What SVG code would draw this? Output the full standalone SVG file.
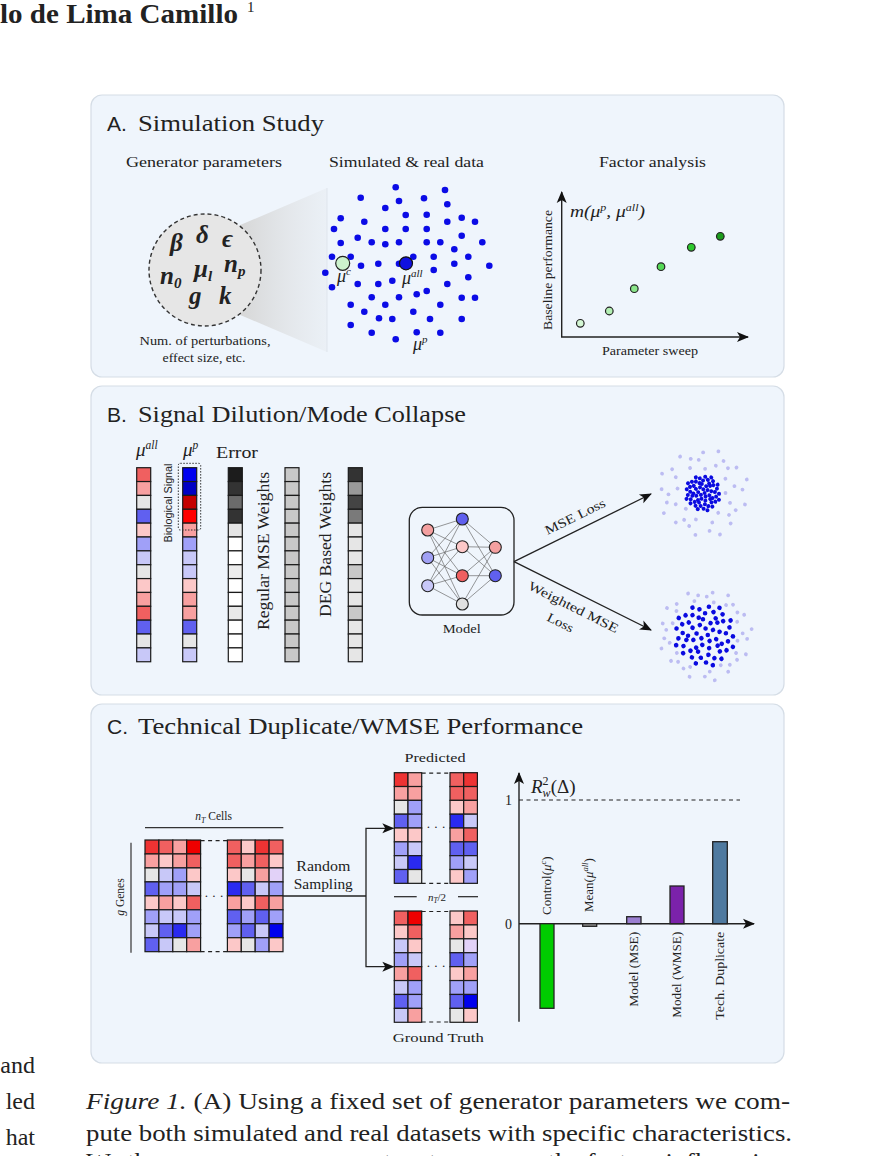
<svg xmlns="http://www.w3.org/2000/svg" xmlns:xlink="http://www.w3.org/1999/xlink" width="876" height="1156" viewBox="0 0 876 1156">
<defs>
<style>
.s{font-family:"Liberation Serif",serif;fill:#222}
.ss{font-family:"Liberation Sans",sans-serif;fill:#222}
.it{font-style:italic}
.panel{fill:#eff5fc;stroke:#d5dde6;stroke-width:1.2}
.cell rect{stroke:#1a1a1a;stroke-width:1.2}
.r0{fill:#ee0000}.r1{fill:#ee3333}.r2{fill:#f06060}.r3{fill:#f8a0a0}.r4{fill:#fcc8c8}
.g0{fill:#e6e6e6}.b4{fill:#c8c8f8}.b3{fill:#a0a0f8}.b2{fill:#6060f0}.b1{fill:#2a2af0}.b0{fill:#0000ee}
.lv{fill:#e2d2f8}.bb{fill:#0000f0}.db{fill:#0000c4}.dr{fill:#c40000}.rr{fill:#ff0000}
.dot{fill:#0b0be6}
.ln{stroke:#222;stroke-width:1.3;fill:none}
.ax{stroke:#222;stroke-width:1.4;fill:none}
</style>
<marker id="arr" viewBox="0 0 12 12" refX="11" refY="6" markerWidth="12" markerHeight="12" markerUnits="userSpaceOnUse" orient="auto">
<path d="M0,1 L12,6 L0,11 L3,6 z" fill="#111"/>
</marker>
<linearGradient id="cone" x1="0" y1="0" x2="1" y2="0">
<stop offset="0" stop-color="#d6d6d6"/>
<stop offset="1" stop-color="#e8edf2" stop-opacity="0.6"/>
</linearGradient>
<circle id="bd" r="2" fill="#0a0ae0"/>
<circle id="bd2" r="2.3" fill="#0a0ae0"/>
<circle id="bf" r="1.9" fill="#bcbcf2"/>
</defs>

<rect width="876" height="1156" fill="#ffffff"/>

<!-- header and surrounding text -->
<g id="header">
<text class="s" x="0" y="23" font-size="28" font-weight="bold" fill="#111" textLength="238" lengthAdjust="spacingAndGlyphs">lo de Lima Camillo</text>
<text class="s" x="247" y="12" font-size="15" fill="#111">1</text>
</g>
<g id="side-text">
<text class="s" x="35" y="1073" font-size="24" text-anchor="end" fill="#111">and</text>
<text class="s" x="35" y="1109" font-size="24" text-anchor="end" fill="#111">led</text>
<text class="s" x="35" y="1145" font-size="24" text-anchor="end" fill="#111">hat</text>
</g>
<g id="caption">
<text class="s" x="86" y="1109" font-size="24" fill="#111" textLength="704" lengthAdjust="spacingAndGlyphs"><tspan font-style="italic">Figure 1.</tspan> (A) Using a fixed set of generator parameters we com-</text>
<text class="s" x="86" y="1141" font-size="24" fill="#111" textLength="706" lengthAdjust="spacingAndGlyphs">pute both simulated and real datasets with specific characteristics.</text>
<text class="s" x="86" y="1169" font-size="24" fill="#111" textLength="700" lengthAdjust="spacingAndGlyphs">We then sweep over parameters to uncover the factors influencing</text>
</g>

<!-- panels -->
<rect id="panelA" class="panel" x="91" y="95" width="693" height="282" rx="11"/>
<rect id="panelB" class="panel" x="91" y="386" width="693" height="309" rx="11"/>
<rect id="panelC" class="panel" x="91" y="704" width="693" height="359" rx="11"/>

<!-- ================= PANEL A ================= -->
<g id="titleA">
<text class="ss" x="107" y="131" font-size="21">A.</text>
<text class="s" x="138" y="131" font-size="24" textLength="186" lengthAdjust="spacingAndGlyphs">Simulation Study</text>
</g>
<text class="s" x="204" y="167" font-size="15" text-anchor="middle" textLength="156" lengthAdjust="spacingAndGlyphs">Generator parameters</text>
<text class="s" x="406.5" y="167" font-size="15" text-anchor="middle" textLength="155" lengthAdjust="spacingAndGlyphs">Simulated &amp; real data</text>
<text class="s" x="652.5" y="167" font-size="15" text-anchor="middle" textLength="107" lengthAdjust="spacingAndGlyphs">Factor analysis</text>

<g id="generator">
<polygon points="238,226 327,188 327,352 238,314" fill="url(#cone)"/>
<line x1="327" y1="188" x2="327" y2="352" stroke="#dfe5ec" stroke-width="1"/>
<circle cx="205" cy="270" r="56" fill="#e6e6e6" stroke="#333" stroke-width="1.4" stroke-dasharray="4,3"/>
<g class="s it" font-size="25" font-weight="bold" fill="#1a1a1a">
<text x="170" y="251">β</text>
<text x="196" y="243">δ</text>
<text x="222" y="247">ϵ</text>
<text x="160" y="284">n<tspan font-size="15" dy="4">0</tspan></text>
<text x="194" y="277">μ<tspan font-size="15" dy="4">l</tspan></text>
<text x="224" y="272">n<tspan font-size="15" dy="4">p</tspan></text>
<text x="189" y="304">g</text>
<text x="219" y="304">k</text>
</g>
<text class="s" x="205" y="345" font-size="12" text-anchor="middle" textLength="131" lengthAdjust="spacingAndGlyphs">Num. of perturbations,</text>
<text class="s" x="204" y="362" font-size="12" text-anchor="middle" textLength="83" lengthAdjust="spacingAndGlyphs">effect size, etc.</text>
</g>

<g id="scatterA" class="dot">
<circle cx="395.7" cy="187.3" r="3.3"/><circle cx="445" cy="190" r="3.3"/><circle cx="360.7" cy="197.7" r="3.3"/><circle cx="399" cy="201" r="3.3"/>
<circle cx="424" cy="198.3" r="3.3"/><circle cx="447.3" cy="204.3" r="3.3"/><circle cx="385.3" cy="208" r="3.3"/><circle cx="405.7" cy="215" r="3.3"/>
<circle cx="426.7" cy="214.7" r="3.3"/><circle cx="340.7" cy="218.3" r="3.3"/><circle cx="364.3" cy="221.7" r="3.3"/><circle cx="447.3" cy="221.7" r="3.3"/>
<circle cx="461.7" cy="217.7" r="3.3"/><circle cx="475" cy="221.7" r="3.3"/><circle cx="334" cy="229" r="3.3"/><circle cx="385.3" cy="229" r="3.3"/>
<circle cx="405.7" cy="229" r="3.3"/><circle cx="426.7" cy="229" r="3.3"/><circle cx="461.7" cy="235.7" r="3.3"/><circle cx="357.7" cy="237.7" r="3.3"/>
<circle cx="371.7" cy="242.3" r="3.3"/><circle cx="385.3" cy="244.3" r="3.3"/><circle cx="399" cy="242.3" r="3.3"/><circle cx="340.7" cy="243" r="3.3"/>
<circle cx="426.7" cy="242.3" r="3.3"/><circle cx="440.3" cy="242.3" r="3.3"/><circle cx="482.3" cy="242.3" r="3.3"/><circle cx="454.3" cy="249.3" r="3.3"/>
<circle cx="332" cy="256.7" r="3.3"/><circle cx="350.7" cy="256.7" r="3.3"/><circle cx="413.3" cy="256.7" r="3.3"/><circle cx="433.7" cy="256.7" r="3.3"/>
<circle cx="468.3" cy="256.7" r="3.3"/><circle cx="361" cy="265.7" r="3.3"/><circle cx="378.3" cy="263.7" r="3.3"/><circle cx="399" cy="263.7" r="3.3"/>
<circle cx="454.3" cy="263.7" r="3.3"/><circle cx="489.3" cy="265.7" r="3.3"/><circle cx="325.3" cy="272.7" r="3.3"/><circle cx="433.7" cy="270" r="3.3"/>
<circle cx="332" cy="287.3" r="3.3"/><circle cx="357.7" cy="284" r="3.3"/><circle cx="378.3" cy="284" r="3.3"/><circle cx="392.3" cy="280.7" r="3.3"/>
<circle cx="447.3" cy="284" r="3.3"/><circle cx="468.3" cy="277.3" r="3.3"/><circle cx="371.7" cy="297.3" r="3.3"/><circle cx="399" cy="297.3" r="3.3"/>
<circle cx="416.7" cy="294.3" r="3.3"/><circle cx="426.7" cy="291" r="3.3"/><circle cx="461.7" cy="297.7" r="3.3"/><circle cx="475" cy="297.7" r="3.3"/>
<circle cx="350.7" cy="304.7" r="3.3"/><circle cx="385.3" cy="304.7" r="3.3"/><circle cx="440.3" cy="304.7" r="3.3"/><circle cx="364.3" cy="311.7" r="3.3"/>
<circle cx="413.3" cy="311.7" r="3.3"/><circle cx="379" cy="318.3" r="3.3"/><circle cx="392.3" cy="319" r="3.3"/><circle cx="430" cy="319" r="3.3"/>
<circle cx="461.7" cy="319" r="3.3"/><circle cx="350.7" cy="325" r="3.3"/><circle cx="371.7" cy="332.7" r="3.3"/><circle cx="416.7" cy="332.3" r="3.3"/>
<circle cx="440.3" cy="332.7" r="3.3"/><circle cx="395.7" cy="339.3" r="3.3"/>
</g>
<g id="muc">
<circle cx="342.7" cy="263.3" r="7" fill="#cdf3cd" stroke="#222" stroke-width="1.2"/>
<text class="s it" x="337" y="282" font-size="18">μ<tspan font-size="11" dy="-7">c</tspan></text>
</g>
<g id="muall">
<circle cx="406" cy="263.3" r="6.5" fill="#1010e0" stroke="#111" stroke-width="1.2"/>
<text class="s it" x="402" y="284" font-size="18">μ<tspan font-size="11" dy="-7">all</tspan></text>
</g>
<text id="mup" class="s it" x="413" y="350" font-size="18">μ<tspan font-size="11" dy="-7">p</tspan></text>

<g id="factor">
<line class="ax" x1="561.7" y1="337" x2="561.7" y2="192" marker-end="url(#arr)"/>
<line class="ax" x1="561" y1="337" x2="748" y2="337" marker-end="url(#arr)"/>
<text class="s it" x="570" y="217" font-size="17" textLength="75" lengthAdjust="spacingAndGlyphs">m(μ<tspan font-size="10.5" dy="-6">p</tspan><tspan dy="6">, μ</tspan><tspan font-size="10.5" dy="-6">all</tspan><tspan dy="6">)</tspan></text>
<text class="s" transform="translate(552,270) rotate(-90)" font-size="12.5" text-anchor="middle" textLength="120" lengthAdjust="spacingAndGlyphs">Baseline performance</text>
<text class="s" x="650" y="355" font-size="12.5" text-anchor="middle" textLength="96" lengthAdjust="spacingAndGlyphs">Parameter sweep</text>
<g stroke="#222" stroke-width="1.2">
<circle cx="580.3" cy="323.3" r="3.8" fill="#d4f7d4"/>
<circle cx="609.3" cy="311" r="3.8" fill="#b3efb3"/>
<circle cx="634.3" cy="288.7" r="3.8" fill="#8ae58a"/>
<circle cx="661" cy="266.7" r="3.8" fill="#55d855"/>
<circle cx="691.3" cy="247.3" r="3.8" fill="#2dc82d"/>
<circle cx="720.3" cy="236.3" r="3.8" fill="#1c9c1c"/>
</g>
</g>

<!-- ================= PANEL B ================= -->
<g id="titleB">
<text class="ss" x="107" y="422" font-size="21">B.</text>
<text class="s" x="138" y="422" font-size="24" textLength="328" lengthAdjust="spacingAndGlyphs">Signal Dilution/Mode Collapse</text>
</g>
<text class="s it" x="136" y="456" font-size="19">μ<tspan font-size="11.5" dy="-7">all</tspan></text>
<text class="s it" x="183" y="456" font-size="19">μ<tspan font-size="11.5" dy="-7">p</tspan></text>
<text class="s" x="216" y="458" font-size="16" textLength="42" lengthAdjust="spacingAndGlyphs">Error</text>

<g id="col-muall" class="cell" transform="translate(136.7,467.7)">
<rect y="0" width="14" height="13.86" class="r2"/><rect y="13.86" width="14" height="13.86" class="r3"/><rect y="27.72" width="14" height="13.86" class="g0"/><rect y="41.58" width="14" height="13.86" class="b2"/>
<rect y="55.44" width="14" height="13.86" class="r4"/><rect y="69.3" width="14" height="13.86" class="b3"/><rect y="83.16" width="14" height="13.86" class="b4"/><rect y="97.02" width="14" height="13.86" class="g0"/>
<rect y="110.88" width="14" height="13.86" class="r4"/><rect y="124.74" width="14" height="13.86" class="r3"/><rect y="138.6" width="14" height="13.86" class="r2"/><rect y="152.46" width="14" height="13.86" class="b2"/>
<rect y="166.32" width="14" height="13.86" class="g0"/><rect y="180.18" width="14" height="13.86" class="b4"/>
</g>
<g id="col-mup" class="cell" transform="translate(182.7,467.7)">
<rect y="0" width="14" height="13.86" class="bb"/><rect y="13.86" width="14" height="13.86" class="db"/><rect y="27.72" width="14" height="13.86" class="dr"/><rect y="41.58" width="14" height="13.86" class="rr"/>
<rect y="55.44" width="14" height="13.86" class="r3"/><rect y="69.3" width="14" height="13.86" class="b3"/><rect y="83.16" width="14" height="13.86" class="b4"/><rect y="97.02" width="14" height="13.86" class="b4"/>
<rect y="110.88" width="14" height="13.86" class="r4"/><rect y="124.74" width="14" height="13.86" class="r3"/><rect y="138.6" width="14" height="13.86" class="r3"/><rect y="152.46" width="14" height="13.86" class="b2"/>
<rect y="166.32" width="14" height="13.86" class="g0"/><rect y="180.18" width="14" height="13.86" class="b4"/>
</g>
<g id="bio-signal">
<rect x="178.3" y="463.3" width="22.4" height="66.7" rx="2" fill="none" stroke="#333" stroke-width="1" stroke-dasharray="1.5,1.5"/>
<text class="ss" transform="translate(171.5,503) rotate(-90)" font-size="10.5" text-anchor="middle" textLength="79" lengthAdjust="spacingAndGlyphs">Biological Signal</text>
</g>
<g id="col-error" class="cell" transform="translate(228.3,467.7)">
<rect y="0" width="14" height="13.86" fill="#1c1c1c"/><rect y="13.86" width="14" height="13.86" fill="#333"/><rect y="27.72" width="14" height="13.86" fill="#6b6b6b"/><rect y="41.58" width="14" height="13.86" fill="#333"/>
<rect y="55.44" width="14" height="13.86" fill="#e4e4e4"/><rect y="69.3" width="14" height="13.86" fill="#fff"/><rect y="83.16" width="14" height="13.86" fill="#fff"/><rect y="97.02" width="14" height="13.86" fill="#ececec"/>
<rect y="110.88" width="14" height="13.86" fill="#fff"/><rect y="124.74" width="14" height="13.86" fill="#fff"/><rect y="138.6" width="14" height="13.86" fill="#e8e8e8"/><rect y="152.46" width="14" height="13.86" fill="#fff"/>
<rect y="166.32" width="14" height="13.86" fill="#fff"/><rect y="180.18" width="14" height="13.86" fill="#fff"/>
</g>
<text class="s" transform="translate(268.5,551) rotate(-90)" font-size="16" text-anchor="middle" textLength="158" lengthAdjust="spacingAndGlyphs">Regular MSE Weights</text>
<g id="col-regular" class="cell" transform="translate(285,467.7)" fill="#c8c8c8">
<rect y="0" width="14" height="13.86"/><rect y="13.86" width="14" height="13.86"/><rect y="27.72" width="14" height="13.86"/><rect y="41.58" width="14" height="13.86"/>
<rect y="55.44" width="14" height="13.86"/><rect y="69.3" width="14" height="13.86"/><rect y="83.16" width="14" height="13.86"/><rect y="97.02" width="14" height="13.86"/>
<rect y="110.88" width="14" height="13.86"/><rect y="124.74" width="14" height="13.86"/><rect y="138.6" width="14" height="13.86"/><rect y="152.46" width="14" height="13.86"/>
<rect y="166.32" width="14" height="13.86"/><rect y="180.18" width="14" height="13.86"/>
</g>
<text class="s" transform="translate(330.5,544.5) rotate(-90)" font-size="16" text-anchor="middle" textLength="145" lengthAdjust="spacingAndGlyphs">DEG Based Weights</text>
<g id="col-deg" class="cell" transform="translate(348.3,467.7)">
<rect y="0" width="14" height="13.86" fill="#333"/><rect y="13.86" width="14" height="13.86" fill="#999"/><rect y="27.72" width="14" height="13.86" fill="#444"/><rect y="41.58" width="14" height="13.86" fill="#7a7a7a"/>
<rect y="55.44" width="14" height="13.86" fill="#e6e6e6"/><rect y="69.3" width="14" height="13.86" fill="#e6e6e6"/><rect y="83.16" width="14" height="13.86" fill="#e6e6e6"/><rect y="97.02" width="14" height="13.86" fill="#c8c8c8"/>
<rect y="110.88" width="14" height="13.86" fill="#e6e6e6"/><rect y="124.74" width="14" height="13.86" fill="#e6e6e6"/><rect y="138.6" width="14" height="13.86" fill="#c8c8c8"/><rect y="152.46" width="14" height="13.86" fill="#e6e6e6"/>
<rect y="166.32" width="14" height="13.86" fill="#e6e6e6"/><rect y="180.18" width="14" height="13.86" fill="#e6e6e6"/>
</g>

<g id="model">
<rect x="409.3" y="507.3" width="104.7" height="107.7" rx="13" fill="#eff5fc" stroke="#222" stroke-width="1.3"/>
<path d="M427.7,530L462.3,519M427.7,530L462.3,546.7M427.7,530L462.3,575.7M427.7,530L462.3,604M427.7,557.7L462.3,519M427.7,557.7L462.3,546.7M427.7,557.7L462.3,575.7M427.7,557.7L462.3,604M427.7,585.7L462.3,519M427.7,585.7L462.3,546.7M427.7,585.7L462.3,575.7M427.7,585.7L462.3,604M462.3,519L495.3,547.3M462.3,519L495.3,575.7M462.3,546.7L495.3,547.3M462.3,546.7L495.3,575.7M462.3,575.7L495.3,547.3M462.3,575.7L495.3,575.7M462.3,604L495.3,547.3M462.3,604L495.3,575.7" stroke="#666" stroke-width="0.9" stroke-opacity="0.75" fill="none"/>
<g stroke="#222" stroke-width="1.1">
<circle cx="427.7" cy="530" r="6" fill="#f4a0a0"/>
<circle cx="427.7" cy="557.7" r="6" fill="#a0a0f4"/>
<circle cx="427.7" cy="585.7" r="6" fill="#c8c8f8"/>
<circle cx="462.3" cy="519" r="6" fill="#6060ee"/>
<circle cx="462.3" cy="546.7" r="6" fill="#fcc8c8"/>
<circle cx="462.3" cy="575.7" r="6" fill="#f06060"/>
<circle cx="462.3" cy="604" r="6" fill="#e0e0e0"/>
<circle cx="495.3" cy="547.3" r="6" fill="#f4a0a0"/>
<circle cx="495.3" cy="575.7" r="6" fill="#6060ee"/>
</g>
<text class="s" x="461.7" y="633" font-size="13" text-anchor="middle" textLength="38" lengthAdjust="spacingAndGlyphs">Model</text>
</g>

<g id="connectorsB">
<line class="ln" x1="514" y1="561.7" x2="651" y2="494" marker-end="url(#arr)"/>
<line class="ln" x1="514" y1="561.7" x2="651" y2="630" marker-end="url(#arr)"/>
<text class="s" transform="translate(577,520.5) rotate(-26.2)" font-size="13" text-anchor="middle" textLength="66" lengthAdjust="spacingAndGlyphs">MSE Loss</text>
<text class="s" transform="translate(571.5,611) rotate(26.6)" font-size="13" text-anchor="middle" textLength="99" lengthAdjust="spacingAndGlyphs">Weighted MSE</text>
<text class="s" transform="translate(558.5,626.5) rotate(26.6)" font-size="13" text-anchor="middle" textLength="28" lengthAdjust="spacingAndGlyphs">Loss</text>
</g>

<g id="cluster-mse" transform="translate(703,493)">
<g id="faint1">
<use href="#bf" transform="rotate(0) translate(22.5)"/><use href="#bf" transform="rotate(137.5) translate(23.3)"/><use href="#bf" transform="rotate(275) translate(24.2)"/><use href="#bf" transform="rotate(52.5) translate(25)"/>
<use href="#bf" transform="rotate(190) translate(25.8)"/><use href="#bf" transform="rotate(327.5) translate(26.6)"/><use href="#bf" transform="rotate(105) translate(27.4)"/><use href="#bf" transform="rotate(242.6) translate(28.1)"/>
<use href="#bf" transform="rotate(20.1) translate(28.8)"/><use href="#bf" transform="rotate(157.6) translate(29.5)"/><use href="#bf" transform="rotate(295.1) translate(30.2)"/><use href="#bf" transform="rotate(72.6) translate(30.9)"/>
<use href="#bf" transform="rotate(210.1) translate(31.5)"/><use href="#bf" transform="rotate(347.6) translate(32.2)"/><use href="#bf" transform="rotate(125.1) translate(32.8)"/><use href="#bf" transform="rotate(262.6) translate(33.4)"/>
<use href="#bf" transform="rotate(40.1) translate(34)"/><use href="#bf" transform="rotate(177.6) translate(34.6)"/><use href="#bf" transform="rotate(315.1) translate(35.2)"/><use href="#bf" transform="rotate(112.7) translate(35.8)"/>
<use href="#bf" transform="rotate(250.2) translate(36.3)"/><use href="#bf" transform="rotate(27.7) translate(36.9)"/><use href="#bf" transform="rotate(165.2) translate(37.4)"/><use href="#bf" transform="rotate(302.7) translate(38)"/>
<use href="#bf" transform="rotate(80.2) translate(38.5)"/><use href="#bf" transform="rotate(217.7) translate(39)"/><use href="#bf" transform="rotate(355.2) translate(39.6)"/><use href="#bf" transform="rotate(132.7) translate(40.1)"/>
<use href="#bf" transform="rotate(270.2) translate(40.6)"/><use href="#bf" transform="rotate(47.7) translate(41.1)"/><use href="#bf" transform="rotate(185.2) translate(41.6)"/><use href="#bf" transform="rotate(322.7) translate(42.1)"/>
<use href="#bf" transform="rotate(100.3) translate(42.5)"/><use href="#bf" transform="rotate(237.8) translate(43)"/><use href="#bf" transform="rotate(15.3) translate(43.5)"/><use href="#bf" transform="rotate(152.8) translate(44)"/>
<use href="#bf" transform="rotate(290.3) translate(44.4)"/><use href="#bf" transform="rotate(67.8) translate(44.9)"/><use href="#bf" transform="rotate(205.3) translate(45.3)"/><use href="#bf" transform="rotate(342.8) translate(45.8)"/>
</g>
<g id="dense1">
<use href="#bd" transform="rotate(0) translate(1.6)"/><use href="#bd" transform="rotate(137.5) translate(2.8)"/><use href="#bd" transform="rotate(275) translate(3.7)"/><use href="#bd" transform="rotate(52.5) translate(4.3)"/>
<use href="#bd" transform="rotate(190) translate(4.9)"/><use href="#bd" transform="rotate(327.5) translate(5.4)"/><use href="#bd" transform="rotate(105) translate(5.9)"/><use href="#bd" transform="rotate(242.6) translate(6.4)"/>
<use href="#bd" transform="rotate(20.1) translate(6.8)"/><use href="#bd" transform="rotate(157.6) translate(7.2)"/><use href="#bd" transform="rotate(295.1) translate(7.5)"/><use href="#bd" transform="rotate(72.6) translate(7.9)"/>
<use href="#bd" transform="rotate(210.1) translate(8.2)"/><use href="#bd" transform="rotate(347.6) translate(8.5)"/><use href="#bd" transform="rotate(125.1) translate(8.8)"/><use href="#bd" transform="rotate(262.6) translate(9.1)"/>
<use href="#bd" transform="rotate(40.1) translate(9.4)"/><use href="#bd" transform="rotate(177.6) translate(9.7)"/><use href="#bd" transform="rotate(315.1) translate(10)"/><use href="#bd" transform="rotate(112.7) translate(10.3)"/>
<use href="#bd" transform="rotate(250.2) translate(10.5)"/><use href="#bd" transform="rotate(27.7) translate(10.8)"/><use href="#bd" transform="rotate(165.2) translate(11)"/><use href="#bd" transform="rotate(302.7) translate(11.3)"/>
<use href="#bd" transform="rotate(80.2) translate(11.5)"/><use href="#bd" transform="rotate(217.7) translate(11.7)"/><use href="#bd" transform="rotate(355.2) translate(12)"/><use href="#bd" transform="rotate(132.7) translate(12.2)"/>
<use href="#bd" transform="rotate(270.2) translate(12.4)"/><use href="#bd" transform="rotate(47.7) translate(12.6)"/><use href="#bd" transform="rotate(185.2) translate(12.8)"/><use href="#bd" transform="rotate(322.7) translate(13)"/>
<use href="#bd" transform="rotate(100.3) translate(13.2)"/><use href="#bd" transform="rotate(237.8) translate(13.4)"/><use href="#bd" transform="rotate(15.3) translate(13.6)"/><use href="#bd" transform="rotate(152.8) translate(13.8)"/>
<use href="#bd" transform="rotate(290.3) translate(14)"/><use href="#bd" transform="rotate(67.8) translate(14.2)"/><use href="#bd" transform="rotate(205.3) translate(14.4)"/><use href="#bd" transform="rotate(342.8) translate(14.6)"/>
<use href="#bd" transform="rotate(120.3) translate(14.8)"/><use href="#bd" transform="rotate(257.8) translate(15)"/><use href="#bd" transform="rotate(35.3) translate(15.1)"/><use href="#bd" transform="rotate(172.8) translate(15.3)"/>
<use href="#bd" transform="rotate(310.4) translate(15.5)"/><use href="#bd" transform="rotate(87.9) translate(15.7)"/><use href="#bd" transform="rotate(225.4) translate(15.8)"/><use href="#bd" transform="rotate(2.9) translate(16)"/>
<use href="#bd" transform="rotate(140.4) translate(16.2)"/><use href="#bd" transform="rotate(277.9) translate(16.3)"/><use href="#bd" transform="rotate(55.4) translate(16.5)"/><use href="#bd" transform="rotate(192.9) translate(16.7)"/>
<use href="#bd" transform="rotate(330.4) translate(16.8)"/><use href="#bd" transform="rotate(107.9) translate(17)"/><use href="#bd" transform="rotate(245.4) translate(17.2)"/><use href="#bd" transform="rotate(22.9) translate(17.3)"/>
<use href="#bd" transform="rotate(160.5) translate(17.5)"/><use href="#bd" transform="rotate(298) translate(17.6)"/><use href="#bd" transform="rotate(75.5) translate(17.8)"/><use href="#bd" transform="rotate(213) translate(17.9)"/>
</g>
</g>

<g id="cluster-wmse" transform="translate(705,635)">
<g id="faint2">
<use href="#bf" transform="rotate(10) translate(33)"/><use href="#bf" transform="rotate(147.5) translate(33.4)"/><use href="#bf" transform="rotate(285) translate(33.7)"/><use href="#bf" transform="rotate(62.5) translate(34.1)"/>
<use href="#bf" transform="rotate(200) translate(34.4)"/><use href="#bf" transform="rotate(337.5) translate(34.8)"/><use href="#bf" transform="rotate(115) translate(35.2)"/><use href="#bf" transform="rotate(252.6) translate(35.5)"/>
<use href="#bf" transform="rotate(30.1) translate(35.9)"/><use href="#bf" transform="rotate(167.6) translate(36.2)"/><use href="#bf" transform="rotate(305.1) translate(36.6)"/><use href="#bf" transform="rotate(82.6) translate(36.9)"/>
<use href="#bf" transform="rotate(220.1) translate(37.3)"/><use href="#bf" transform="rotate(357.6) translate(37.7)"/><use href="#bf" transform="rotate(135.1) translate(38)"/><use href="#bf" transform="rotate(272.6) translate(38.4)"/>
<use href="#bf" transform="rotate(50.1) translate(38.7)"/><use href="#bf" transform="rotate(187.6) translate(39.1)"/><use href="#bf" transform="rotate(325.1) translate(39.5)"/><use href="#bf" transform="rotate(122.7) translate(39.8)"/>
<use href="#bf" transform="rotate(260.2) translate(40.2)"/><use href="#bf" transform="rotate(37.7) translate(40.5)"/><use href="#bf" transform="rotate(175.2) translate(40.9)"/><use href="#bf" transform="rotate(312.7) translate(41.3)"/>
<use href="#bf" transform="rotate(90.2) translate(41.6)"/><use href="#bf" transform="rotate(227.7) translate(42)"/><use href="#bf" transform="rotate(5.2) translate(42.3)"/><use href="#bf" transform="rotate(142.7) translate(42.7)"/>
<use href="#bf" transform="rotate(280.2) translate(43.1)"/><use href="#bf" transform="rotate(57.7) translate(43.4)"/><use href="#bf" transform="rotate(195.2) translate(43.8)"/><use href="#bf" transform="rotate(332.7) translate(44.1)"/>
<use href="#bf" transform="rotate(110.3) translate(44.5)"/><use href="#bf" transform="rotate(247.8) translate(44.8)"/><use href="#bf" transform="rotate(25.3) translate(45.2)"/><use href="#bf" transform="rotate(162.8) translate(45.6)"/>
<use href="#bf" transform="rotate(300.3) translate(45.9)"/><use href="#bf" transform="rotate(77.8) translate(46.3)"/><use href="#bf" transform="rotate(215.3) translate(46.6)"/><use href="#bf" transform="rotate(352.8) translate(47)"/>
</g>
<g id="dense2">
<use href="#bd2" transform="rotate(0) translate(2.8)"/><use href="#bd2" transform="rotate(137.5) translate(4.9)"/><use href="#bd2" transform="rotate(275) translate(6.5)"/><use href="#bd2" transform="rotate(52.5) translate(7.5)"/>
<use href="#bd2" transform="rotate(190) translate(8.6)"/><use href="#bd2" transform="rotate(327.5) translate(9.5)"/><use href="#bd2" transform="rotate(105) translate(10.3)"/><use href="#bd2" transform="rotate(242.6) translate(11.2)"/>
<use href="#bd2" transform="rotate(20.1) translate(11.9)"/><use href="#bd2" transform="rotate(157.6) translate(12.6)"/><use href="#bd2" transform="rotate(295.1) translate(13.1)"/><use href="#bd2" transform="rotate(72.6) translate(13.8)"/>
<use href="#bd2" transform="rotate(210.1) translate(14.4)"/><use href="#bd2" transform="rotate(347.6) translate(14.9)"/><use href="#bd2" transform="rotate(125.1) translate(15.4)"/><use href="#bd2" transform="rotate(262.6) translate(15.9)"/>
<use href="#bd2" transform="rotate(40.1) translate(16.5)"/><use href="#bd2" transform="rotate(177.6) translate(17)"/><use href="#bd2" transform="rotate(315.1) translate(17.5)"/><use href="#bd2" transform="rotate(112.7) translate(18)"/>
<use href="#bd2" transform="rotate(250.2) translate(18.4)"/><use href="#bd2" transform="rotate(27.7) translate(18.9)"/><use href="#bd2" transform="rotate(165.2) translate(19.3)"/><use href="#bd2" transform="rotate(302.7) translate(19.8)"/>
<use href="#bd2" transform="rotate(80.2) translate(20.1)"/><use href="#bd2" transform="rotate(217.7) translate(20.5)"/><use href="#bd2" transform="rotate(355.2) translate(21)"/><use href="#bd2" transform="rotate(132.7) translate(21.4)"/>
<use href="#bd2" transform="rotate(270.2) translate(21.7)"/><use href="#bd2" transform="rotate(47.7) translate(22.1)"/><use href="#bd2" transform="rotate(185.2) translate(22.4)"/><use href="#bd2" transform="rotate(322.7) translate(22.8)"/>
<use href="#bd2" transform="rotate(100.3) translate(23.1)"/><use href="#bd2" transform="rotate(237.8) translate(23.5)"/><use href="#bd2" transform="rotate(15.3) translate(23.8)"/><use href="#bd2" transform="rotate(152.8) translate(24.2)"/>
<use href="#bd2" transform="rotate(290.3) translate(24.5)"/><use href="#bd2" transform="rotate(67.8) translate(24.9)"/><use href="#bd2" transform="rotate(205.3) translate(25.2)"/><use href="#bd2" transform="rotate(342.8) translate(25.6)"/>
<use href="#bd2" transform="rotate(120.3) translate(25.9)"/><use href="#bd2" transform="rotate(257.8) translate(26.3)"/><use href="#bd2" transform="rotate(35.3) translate(26.4)"/><use href="#bd2" transform="rotate(172.8) translate(26.8)"/>
<use href="#bd2" transform="rotate(310.4) translate(27.1)"/><use href="#bd2" transform="rotate(87.9) translate(27.5)"/><use href="#bd2" transform="rotate(225.4) translate(27.7)"/><use href="#bd2" transform="rotate(2.9) translate(28)"/>
<use href="#bd2" transform="rotate(140.4) translate(28.4)"/><use href="#bd2" transform="rotate(277.9) translate(28.5)"/><use href="#bd2" transform="rotate(55.4) translate(28.9)"/><use href="#bd2" transform="rotate(192.9) translate(29.2)"/>
<use href="#bd2" transform="rotate(330.4) translate(29.4)"/><use href="#bd2" transform="rotate(107.9) translate(29.8)"/><use href="#bd2" transform="rotate(245.4) translate(30.1)"/><use href="#bd2" transform="rotate(22.9) translate(30.3)"/>
<use href="#bd2" transform="rotate(160.5) translate(30.6)"/><use href="#bd2" transform="rotate(298) translate(30.8)"/><use href="#bd2" transform="rotate(75.5) translate(31.2)"/><use href="#bd2" transform="rotate(213) translate(31.3)"/>
</g>
</g>

<!-- ================= PANEL C ================= -->
<g id="titleC">
<text class="ss" x="107" y="734" font-size="21">C.</text>
<text class="s" x="138" y="734" font-size="24" textLength="445" lengthAdjust="spacingAndGlyphs">Technical Duplicate/WMSE Performance</text>
</g>

<g id="cells-matrix">
<text class="s" x="213.5" y="820" font-size="11.5" text-anchor="middle"><tspan font-style="italic">n</tspan><tspan font-size="8" font-style="italic" dy="2.5">T</tspan><tspan dy="-2.5"> Cells</tspan></text>
<line x1="145" y1="827.7" x2="283.3" y2="827.7" stroke="#333" stroke-width="1.2"/>
<line x1="131" y1="842.7" x2="131" y2="952.7" stroke="#333" stroke-width="1.2"/>
<text class="s" transform="translate(124,897) rotate(-90)" font-size="11.5" text-anchor="middle"><tspan font-style="italic">g</tspan> Genes</text>
<g class="cell" transform="translate(145,840)">
<rect x="0" y="0" width="13.9" height="13.96" class="r1"/><rect x="13.9" y="0" width="13.9" height="13.96" class="r2"/><rect x="27.8" y="0" width="13.9" height="13.96" class="r3"/><rect x="41.7" y="0" width="13.9" height="13.96" class="r0"/>
<rect x="0" y="13.96" width="13.9" height="13.96" class="r3"/><rect x="13.9" y="13.96" width="13.9" height="13.96" class="r4"/><rect x="27.8" y="13.96" width="13.9" height="13.96" class="r3"/><rect x="41.7" y="13.96" width="13.9" height="13.96" class="r2"/>
<rect x="0" y="27.92" width="13.9" height="13.96" class="g0"/><rect x="13.9" y="27.92" width="13.9" height="13.96" class="b4"/><rect x="27.8" y="27.92" width="13.9" height="13.96" class="b3"/><rect x="41.7" y="27.92" width="13.9" height="13.96" class="r4"/>
<rect x="0" y="41.88" width="13.9" height="13.96" class="b2"/><rect x="13.9" y="41.88" width="13.9" height="13.96" class="b3"/><rect x="27.8" y="41.88" width="13.9" height="13.96" class="b3"/><rect x="41.7" y="41.88" width="13.9" height="13.96" class="b4"/>
<rect x="0" y="55.84" width="13.9" height="13.96" class="r4"/><rect x="13.9" y="55.84" width="13.9" height="13.96" class="r3"/><rect x="27.8" y="55.84" width="13.9" height="13.96" class="r4"/><rect x="41.7" y="55.84" width="13.9" height="13.96" class="r2"/>
<rect x="0" y="69.8" width="13.9" height="13.96" class="b3"/><rect x="13.9" y="69.8" width="13.9" height="13.96" class="b4"/><rect x="27.8" y="69.8" width="13.9" height="13.96" class="b4"/><rect x="41.7" y="69.8" width="13.9" height="13.96" class="b3"/>
<rect x="0" y="83.76" width="13.9" height="13.96" class="b4"/><rect x="13.9" y="83.76" width="13.9" height="13.96" class="b2"/><rect x="27.8" y="83.76" width="13.9" height="13.96" class="b1"/><rect x="41.7" y="83.76" width="13.9" height="13.96" class="b3"/>
<rect x="0" y="97.72" width="13.9" height="13.96" class="b2"/><rect x="13.9" y="97.72" width="13.9" height="13.96" class="b4"/><rect x="27.8" y="97.72" width="13.9" height="13.96" class="g0"/><rect x="41.7" y="97.72" width="13.9" height="13.96" class="r3"/>
</g>
<g class="cell" transform="translate(227.4,840)">
<rect x="0" y="0" width="13.9" height="13.96" class="r2"/><rect x="13.9" y="0" width="13.9" height="13.96" class="r4"/><rect x="27.8" y="0" width="13.9" height="13.96" class="r1"/><rect x="41.7" y="0" width="13.9" height="13.96" class="r2"/>
<rect x="0" y="13.96" width="13.9" height="13.96" class="r2"/><rect x="13.9" y="13.96" width="13.9" height="13.96" class="r3"/><rect x="27.8" y="13.96" width="13.9" height="13.96" class="r2"/><rect x="41.7" y="13.96" width="13.9" height="13.96" class="r4"/>
<rect x="0" y="27.92" width="13.9" height="13.96" class="r4"/><rect x="13.9" y="27.92" width="13.9" height="13.96" class="g0"/><rect x="27.8" y="27.92" width="13.9" height="13.96" class="r3"/><rect x="41.7" y="27.92" width="13.9" height="13.96" class="lv"/>
<rect x="0" y="41.88" width="13.9" height="13.96" class="b1"/><rect x="13.9" y="41.88" width="13.9" height="13.96" class="b2"/><rect x="27.8" y="41.88" width="13.9" height="13.96" class="b4"/><rect x="41.7" y="41.88" width="13.9" height="13.96" class="b3"/>
<rect x="0" y="55.84" width="13.9" height="13.96" class="r3"/><rect x="13.9" y="55.84" width="13.9" height="13.96" class="r4"/><rect x="27.8" y="55.84" width="13.9" height="13.96" class="r2"/><rect x="41.7" y="55.84" width="13.9" height="13.96" class="r3"/>
<rect x="0" y="69.8" width="13.9" height="13.96" class="b2"/><rect x="13.9" y="69.8" width="13.9" height="13.96" class="b3"/><rect x="27.8" y="69.8" width="13.9" height="13.96" class="b2"/><rect x="41.7" y="69.8" width="13.9" height="13.96" class="b3"/>
<rect x="0" y="83.76" width="13.9" height="13.96" class="b3"/><rect x="13.9" y="83.76" width="13.9" height="13.96" class="b2"/><rect x="27.8" y="83.76" width="13.9" height="13.96" class="b4"/><rect x="41.7" y="83.76" width="13.9" height="13.96" class="b0"/>
<rect x="0" y="97.72" width="13.9" height="13.96" class="r4"/><rect x="13.9" y="97.72" width="13.9" height="13.96" class="g0"/><rect x="27.8" y="97.72" width="13.9" height="13.96" class="b3"/><rect x="41.7" y="97.72" width="13.9" height="13.96" class="r4"/>
</g>
<path d="M200.6,840.7H227.4M200.6,951.7H227.4" stroke="#222" stroke-width="1.2" stroke-dasharray="4,3.5"/>
<text class="s" x="214" y="900" font-size="13" text-anchor="middle">· · ·</text>
</g>

<g id="connectorsC">
<path class="ln" d="M283.3,896H366"/>
<path class="ln" d="M366,896V828.3H393.3" marker-end="url(#arr)"/>
<path class="ln" d="M366,896V966.7H393.3" marker-end="url(#arr)"/>
<text class="s" x="323.3" y="871" font-size="14" text-anchor="middle" textLength="54" lengthAdjust="spacingAndGlyphs">Random</text>
<text class="s" x="323.3" y="889" font-size="14" text-anchor="middle" textLength="59" lengthAdjust="spacingAndGlyphs">Sampling</text>
</g>

<g id="predicted">
<text class="s" x="435" y="762" font-size="13" text-anchor="middle" textLength="61" lengthAdjust="spacingAndGlyphs">Predicted</text>
<g class="cell" transform="translate(394.3,772.7)">
<rect x="0" y="0" width="13.7" height="13.83" class="r1"/><rect x="13.7" y="0" width="13.7" height="13.83" class="r3"/>
<rect x="0" y="13.83" width="13.7" height="13.83" class="r3"/><rect x="13.7" y="13.83" width="13.7" height="13.83" class="r3"/>
<rect x="0" y="27.66" width="13.7" height="13.83" class="g0"/><rect x="13.7" y="27.66" width="13.7" height="13.83" class="b3"/>
<rect x="0" y="41.49" width="13.7" height="13.83" class="b2"/><rect x="13.7" y="41.49" width="13.7" height="13.83" class="b3"/>
<rect x="0" y="55.32" width="13.7" height="13.83" class="r4"/><rect x="13.7" y="55.32" width="13.7" height="13.83" class="r4"/>
<rect x="0" y="69.15" width="13.7" height="13.83" class="b3"/><rect x="13.7" y="69.15" width="13.7" height="13.83" class="b4"/>
<rect x="0" y="82.98" width="13.7" height="13.83" class="b4"/><rect x="13.7" y="82.98" width="13.7" height="13.83" class="b1"/>
<rect x="0" y="96.81" width="13.7" height="13.83" class="b2"/><rect x="13.7" y="96.81" width="13.7" height="13.83" class="g0"/>
</g>
<g class="cell" transform="translate(450,772.7)">
<rect x="0" y="0" width="13.7" height="13.83" class="r2"/><rect x="13.7" y="0" width="13.7" height="13.83" class="r1"/>
<rect x="0" y="13.83" width="13.7" height="13.83" class="r2"/><rect x="13.7" y="13.83" width="13.7" height="13.83" class="r2"/>
<rect x="0" y="27.66" width="13.7" height="13.83" class="r4"/><rect x="13.7" y="27.66" width="13.7" height="13.83" class="r3"/>
<rect x="0" y="41.49" width="13.7" height="13.83" class="b1"/><rect x="13.7" y="41.49" width="13.7" height="13.83" class="b4"/>
<rect x="0" y="55.32" width="13.7" height="13.83" class="r3"/><rect x="13.7" y="55.32" width="13.7" height="13.83" class="r2"/>
<rect x="0" y="69.15" width="13.7" height="13.83" class="b2"/><rect x="13.7" y="69.15" width="13.7" height="13.83" class="b2"/>
<rect x="0" y="82.98" width="13.7" height="13.83" class="b3"/><rect x="13.7" y="82.98" width="13.7" height="13.83" class="b4"/>
<rect x="0" y="96.81" width="13.7" height="13.83" class="r4"/><rect x="13.7" y="96.81" width="13.7" height="13.83" class="b3"/>
</g>
<path d="M421.7,773.2H450M421.7,883.3H450" stroke="#222" stroke-width="1.2" stroke-dasharray="4,3.5"/>
<text class="s" x="436" y="831" font-size="13" text-anchor="middle">· · ·</text>
</g>

<g id="nt-half">
<line x1="394" y1="896.7" x2="416.7" y2="896.7" stroke="#222" stroke-width="1.2"/>
<line x1="458" y1="896.7" x2="478" y2="896.7" stroke="#222" stroke-width="1.2"/>
<text class="s" x="437" y="900.5" font-size="11" text-anchor="middle"><tspan font-style="italic">n</tspan><tspan font-size="7.5" font-style="italic" dy="2.5">T</tspan><tspan dy="-2.5">/2</tspan></text>
</g>

<g id="ground-truth">
<g class="cell" transform="translate(394.3,911)">
<rect x="0" y="0" width="13.7" height="13.91" class="r2"/><rect x="13.7" y="0" width="13.7" height="13.91" class="r0"/>
<rect x="0" y="13.91" width="13.7" height="13.91" class="r4"/><rect x="13.7" y="13.91" width="13.7" height="13.91" class="r2"/>
<rect x="0" y="27.82" width="13.7" height="13.91" class="b4"/><rect x="13.7" y="27.82" width="13.7" height="13.91" class="r4"/>
<rect x="0" y="41.73" width="13.7" height="13.91" class="b3"/><rect x="13.7" y="41.73" width="13.7" height="13.91" class="b4"/>
<rect x="0" y="55.64" width="13.7" height="13.91" class="r3"/><rect x="13.7" y="55.64" width="13.7" height="13.91" class="r2"/>
<rect x="0" y="69.55" width="13.7" height="13.91" class="b4"/><rect x="13.7" y="69.55" width="13.7" height="13.91" class="b3"/>
<rect x="0" y="83.46" width="13.7" height="13.91" class="b2"/><rect x="13.7" y="83.46" width="13.7" height="13.91" class="b3"/>
<rect x="0" y="97.37" width="13.7" height="13.91" class="b4"/><rect x="13.7" y="97.37" width="13.7" height="13.91" class="r3"/>
</g>
<g class="cell" transform="translate(450,911)">
<rect x="0" y="0" width="13.7" height="13.91" class="r4"/><rect x="13.7" y="0" width="13.7" height="13.91" class="r2"/>
<rect x="0" y="13.91" width="13.7" height="13.91" class="r3"/><rect x="13.7" y="13.91" width="13.7" height="13.91" class="r4"/>
<rect x="0" y="27.82" width="13.7" height="13.91" class="g0"/><rect x="13.7" y="27.82" width="13.7" height="13.91" class="lv"/>
<rect x="0" y="41.73" width="13.7" height="13.91" class="b2"/><rect x="13.7" y="41.73" width="13.7" height="13.91" class="b3"/>
<rect x="0" y="55.64" width="13.7" height="13.91" class="r4"/><rect x="13.7" y="55.64" width="13.7" height="13.91" class="r3"/>
<rect x="0" y="69.55" width="13.7" height="13.91" class="b3"/><rect x="13.7" y="69.55" width="13.7" height="13.91" class="b3"/>
<rect x="0" y="83.46" width="13.7" height="13.91" class="b2"/><rect x="13.7" y="83.46" width="13.7" height="13.91" class="b0"/>
<rect x="0" y="97.37" width="13.7" height="13.91" class="g0"/><rect x="13.7" y="97.37" width="13.7" height="13.91" class="r4"/>
</g>
<path d="M421.7,911.5H450M421.7,1022H450" stroke="#222" stroke-width="1.2" stroke-dasharray="4,3.5"/>
<text class="s" x="436" y="969.5" font-size="13" text-anchor="middle">· · ·</text>
<text class="s" x="438.3" y="1042" font-size="13" text-anchor="middle" textLength="91" lengthAdjust="spacingAndGlyphs">Ground Truth</text>
</g>

<g id="bar-chart">
<line x1="519" y1="800" x2="740" y2="800" stroke="#222" stroke-width="1.2" stroke-dasharray="4,3.5"/>
<line class="ax" x1="519" y1="1021.7" x2="519" y2="773" marker-end="url(#arr)"/>
<line class="ax" x1="519" y1="923.7" x2="754" y2="923.7" marker-end="url(#arr)"/>
<text class="s" x="512" y="805" font-size="14" text-anchor="end">1</text>
<text class="s" x="512" y="929" font-size="14" text-anchor="end">0</text>
<text class="s" x="531" y="793" font-size="19"><tspan font-style="italic">R</tspan><tspan font-size="12" dy="-8">2</tspan><tspan font-size="12" font-style="italic" dx="-6" dy="12">w</tspan><tspan dy="-4">(Δ)</tspan></text>
<g stroke="#222" stroke-width="1.3">
<rect x="540" y="923.7" width="14" height="84.6" fill="#00cc00"/>
<rect x="582.7" y="923.7" width="14" height="2.6" fill="#999"/>
<rect x="626.7" y="916.7" width="14.3" height="7" fill="#9b7fd1"/>
<rect x="670" y="886" width="14" height="37.7" fill="#7b22aa"/>
<rect x="712.7" y="841.7" width="14.6" height="82" fill="#4f7aa0"/>
</g>
<text class="s" transform="translate(550.5,915) rotate(-90)" font-size="13">Control(<tspan font-style="italic">μ</tspan><tspan font-size="8.5" font-style="italic" dy="-5">c</tspan><tspan dy="5">)</tspan></text>
<text class="s" transform="translate(593,912) rotate(-90)" font-size="13">Mean(<tspan font-style="italic">μ</tspan><tspan font-size="8.5" font-style="italic" dy="-5">all</tspan><tspan dy="5">)</tspan></text>
<text class="s" transform="translate(637.5,931.7) rotate(-90)" font-size="12.5" text-anchor="end" textLength="75" lengthAdjust="spacingAndGlyphs">Model (MSE)</text>
<text class="s" transform="translate(681,931.7) rotate(-90)" font-size="12.5" text-anchor="end" textLength="86" lengthAdjust="spacingAndGlyphs">Model (WMSE)</text>
<text class="s" transform="translate(724,931.7) rotate(-90)" font-size="12.5" text-anchor="end" textLength="88" lengthAdjust="spacingAndGlyphs">Tech. Duplicate</text>
</g>
</svg>
